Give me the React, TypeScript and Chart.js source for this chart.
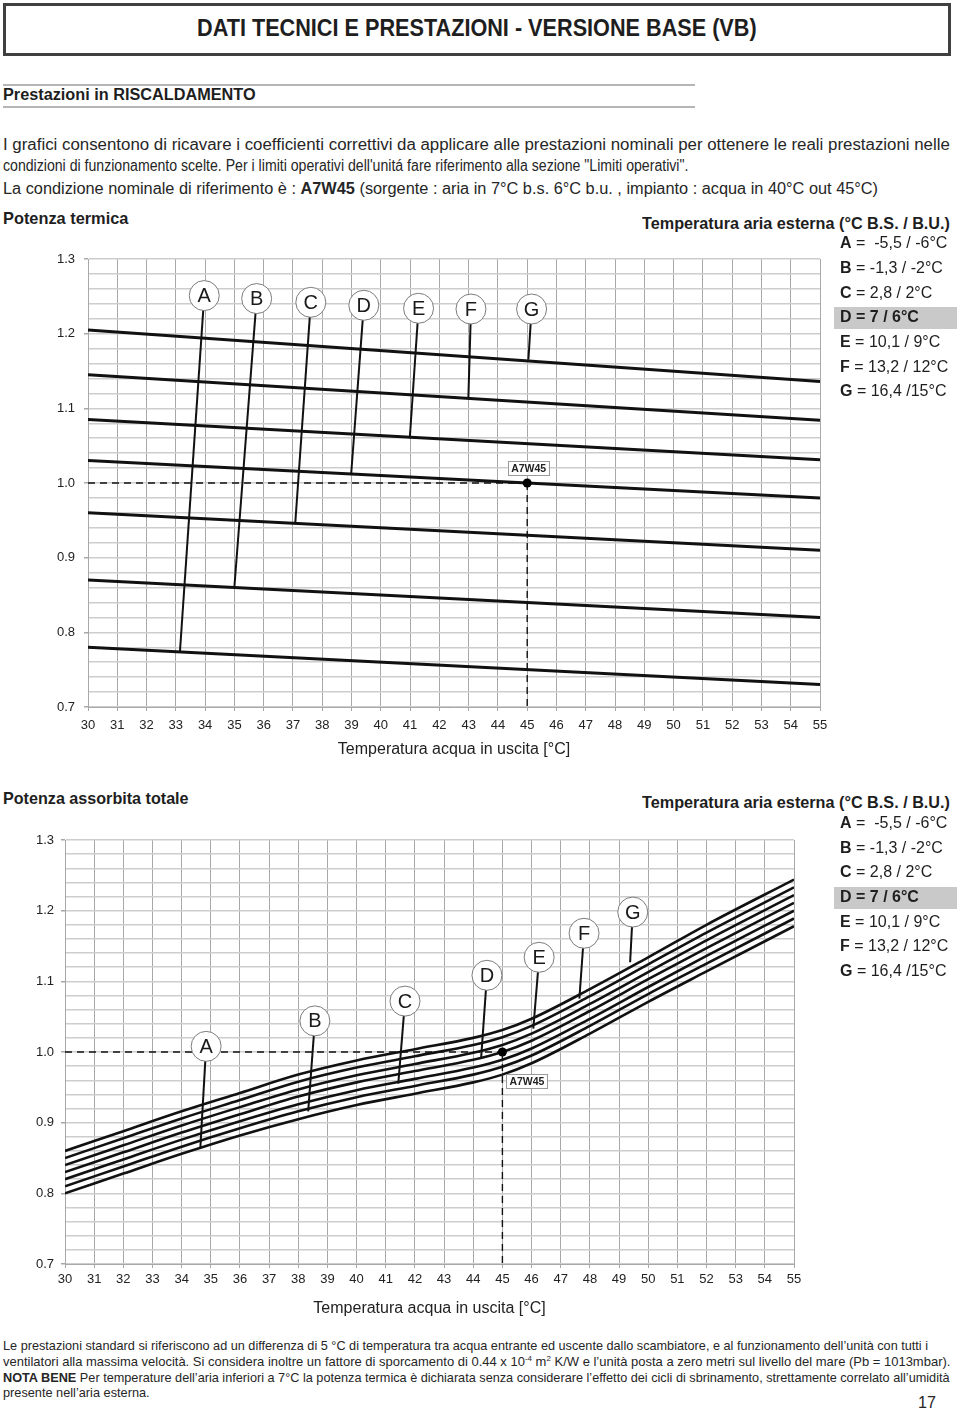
import React, { useEffect, useLayoutEffect, useRef } from 'react';
import { Chart, registerables } from 'chart.js';

Chart.register(...registerables);

const FONT = "'Liberation Sans', Arial, Helvetica, sans-serif";

// ---------- shared axis data ----------
const X_MIN = 30;
const X_MAX = 55;
const Y_MIN = 0.7;
const Y_MAX = 1.3;
const LETTERS = ['A', 'B', 'C', 'D', 'E', 'F', 'G'];
const LEGEND_TITLE = 'Temperatura aria esterna (°C B.S. / B.U.)';
const LEGEND_VALUES = [' =  -5,5 / -6°C', ' = -1,3 / -2°C', ' = 2,8 / 2°C', ' = 7 / 6°C', ' = 10,1 / 9°C', ' = 13,2 / 12°C', ' = 16,4 /15°C'];
const X_TITLE = 'Temperatura acqua in uscita [°C]';
const REF_X = 45;
const REF_Y = 1.0;
const REF_LABEL = 'A7W45';

// ---------- Potenza termica ----------
const PT_X = [30, 55];
const PT_A = [0.78, 0.73];
const PT_B = [0.87, 0.82];
const PT_C = [0.96, 0.91];
const PT_D = [1.03, 0.98];
const PT_E = [1.085, 1.031];
const PT_F = [1.145, 1.084];
const PT_G = [1.205, 1.136];
const PT_CIRCLE_X = [33.97, 35.76, 37.61, 39.42, 41.29, 43.08, 45.15];
const PT_CIRCLE_Y = [1.251, 1.247, 1.242, 1.238, 1.234, 1.233, 1.233];
const PT_END_X = [33.14, 35.0, 37.08, 38.99, 40.99, 42.99, 45.04];
const PT_END_Y = [0.774, 0.861, 0.947, 1.013, 1.06, 1.113, 1.165];

// ---------- Potenza assorbita totale ----------
const PA_X = [30, 32, 34, 36, 38, 40, 42, 44, 45, 46, 48, 50, 52, 55];
const PA_A = [0.8, 0.828, 0.856, 0.882, 0.905, 0.925, 0.941, 0.957, 0.968, 0.984, 1.026, 1.071, 1.114, 1.178];
const PA_B = [0.81, 0.838, 0.866, 0.892, 0.916, 0.936, 0.952, 0.968, 0.979, 0.995, 1.037, 1.082, 1.125, 1.189];
const PA_C = [0.82, 0.848, 0.876, 0.902, 0.926, 0.946, 0.962, 0.978, 0.989, 1.005, 1.047, 1.092, 1.136, 1.2];
const PA_D = [0.83, 0.858, 0.886, 0.912, 0.937, 0.957, 0.973, 0.989, 1.0, 1.016, 1.058, 1.103, 1.147, 1.211];
const PA_E = [0.84, 0.868, 0.896, 0.922, 0.947, 0.967, 0.983, 0.999, 1.01, 1.026, 1.068, 1.113, 1.158, 1.222];
const PA_F = [0.85, 0.878, 0.906, 0.932, 0.958, 0.978, 0.994, 1.01, 1.021, 1.037, 1.079, 1.124, 1.169, 1.233];
const PA_G = [0.86, 0.888, 0.916, 0.942, 0.968, 0.988, 1.004, 1.02, 1.031, 1.047, 1.089, 1.134, 1.18, 1.244];
const PA_CIRCLE_X = [34.84, 38.57, 41.66, 44.47, 46.26, 47.8, 49.47];
const PA_CIRCLE_Y = [1.008, 1.044, 1.072, 1.1085, 1.134, 1.168, 1.198];
const PA_END_X = [34.64, 38.34, 41.43, 44.27, 46.06, 47.64, 49.38];
const PA_END_Y = [0.8634, 0.916, 0.9553, 0.991, 1.033, 1.0755, 1.127];

type Spec = {
  xs: number[];
  curves: number[][];
  smooth: boolean;
  curveWidth: number;
  circX: number[];
  circY: number[];
  endX: number[];
  endY: number[];
  yAxisWidth: number;
  xAxisHeight: number;
  padTop: number;
  padRight: number;
  yTickPad: number;
  xTickPad: number;
  titlePadBottom: number;
  boxDx: number;
  boxDy: number;
};

const annotPlugin = {
  id: 'annot',
  afterDatasetsDraw(chart: any, _args: any, opts: any) {
    const ctx = chart.ctx;
    chart.data.datasets.forEach((ds: any, i: number) => {
      const meta = chart.getDatasetMeta(i);
      if (ds.label === 'circles') {
        ctx.save();
        ctx.font = `20px ${FONT}`;
        ctx.fillStyle = '#1a1a1a';
        ctx.textAlign = 'center';
        ctx.textBaseline = 'middle';
        meta.data.forEach((el: any, j: number) => ctx.fillText(LETTERS[j], el.x, el.y + 1));
        ctx.restore();
      }
      if (ds.label === 'ref') {
        const el = meta.data[0];
        const cx = el.x + opts.boxDx;
        const cy = el.y + opts.boxDy;
        const w = 41;
        const h = 14;
        ctx.save();
        ctx.fillStyle = '#ffffff';
        ctx.fillRect(cx - w / 2, cy - h / 2, w, h);
        ctx.strokeStyle = '#9a9a9a';
        ctx.lineWidth = 1;
        ctx.strokeRect(Math.round(cx - w / 2) + 0.5, Math.round(cy - h / 2) + 0.5, w, h);
        ctx.font = `bold 10.5px ${FONT}`;
        ctx.fillStyle = '#222';
        ctx.textAlign = 'center';
        ctx.textBaseline = 'middle';
        ctx.fillText(REF_LABEL, cx + 0.5, cy + 1);
        ctx.restore();
      }
    });
  },
};

function buildConfig(s: Spec): any {
  const pts = (xs: number[], ys: number[]) => xs.map((x, i) => ({ x, y: ys[i] }));
  const datasets: any[] = [];
  s.curves.forEach((c, i) => {
    datasets.push({
      label: 'curve ' + LETTERS[i],
      data: pts(s.xs, c),
      borderColor: '#111',
      borderWidth: s.curveWidth,
      pointRadius: 0,
      cubicInterpolationMode: s.smooth ? 'monotone' : 'default',
      tension: 0,
      fill: false,
      order: 10,
    });
  });
  LETTERS.forEach((_, i) => {
    datasets.push({
      label: 'leader ' + LETTERS[i],
      data: [
        { x: s.circX[i], y: s.circY[i] },
        { x: s.endX[i], y: s.endY[i] },
      ],
      borderColor: '#111',
      borderWidth: 2,
      pointRadius: 0,
      fill: false,
      order: 5,
    });
  });
  datasets.push({
    label: 'dash h',
    data: [
      { x: X_MIN, y: REF_Y },
      { x: REF_X, y: REF_Y },
    ],
    borderColor: '#111',
    borderWidth: 1.4,
    borderDash: [7, 5],
    pointRadius: 0,
    fill: false,
    order: 6,
  });
  datasets.push({
    label: 'dash v',
    data: [
      { x: REF_X, y: REF_Y },
      { x: REF_X, y: Y_MIN },
    ],
    borderColor: '#111',
    borderWidth: 1.4,
    borderDash: [7, 5],
    pointRadius: 0,
    fill: false,
    order: 6,
  });
  datasets.push({
    label: 'ref',
    data: [{ x: REF_X, y: REF_Y }],
    showLine: false,
    pointRadius: 4.5,
    pointBackgroundColor: '#000',
    pointBorderWidth: 0,
    order: 1,
  });
  datasets.push({
    label: 'circles',
    data: pts(s.circX, s.circY),
    showLine: false,
    pointRadius: 15,
    pointBackgroundColor: '#ffffff',
    pointBorderColor: '#7c7c7c',
    pointBorderWidth: 1,
    order: 0,
  });

  const isMajor = (v: number) => Math.round(v * 100) % 10 === 0;

  return {
    type: 'line',
    data: { datasets },
    plugins: [annotPlugin],
    options: {
      animation: false,
      responsive: false,
      events: [],
      layout: { padding: { top: s.padTop, right: s.padRight, left: 0, bottom: 0 } },
      plugins: {
        legend: { display: false },
        tooltip: { enabled: false },
        annot: { boxDx: s.boxDx, boxDy: s.boxDy },
      },
      scales: {
        x: {
          type: 'linear',
          min: X_MIN,
          max: X_MAX,
          afterFit: (sc: any) => {
            sc.height = s.xAxisHeight;
          },
          ticks: {
            stepSize: 1,
            autoSkip: false,
            maxRotation: 0,
            padding: s.xTickPad,
            color: '#222',
            font: { family: FONT, size: 13 },
          },
          grid: { color: '#a8a8a8', lineWidth: 1, tickLength: 4, tickColor: '#a8a8a8' },
          border: { display: true, color: '#a8a8a8', width: 1 },
          title: {
            display: true,
            text: X_TITLE,
            color: '#222',
            font: { family: FONT, size: 16 },
            padding: { top: 0, bottom: s.titlePadBottom },
          },
        },
        y: {
          type: 'linear',
          min: Y_MIN,
          max: Y_MAX,
          afterFit: (sc: any) => {
            sc.width = s.yAxisWidth;
          },
          ticks: {
            stepSize: 0.02,
            autoSkip: false,
            padding: s.yTickPad,
            color: '#222',
            font: { family: FONT, size: 13 },
            callback: (v: number) => (isMajor(v) ? (Math.round(v * 10) / 10).toFixed(1) : ''),
          },
          grid: {
            color: '#cdcdcd',
            lineWidth: 1.5,
            tickLength: 4,
            tickColor: (c: any) => (c.tick && isMajor(c.tick.value) ? '#a8a8a8' : 'rgba(0,0,0,0)'),
          },
          border: { display: true, color: '#a8a8a8', width: 1 },
        },
      },
    },
  };
}

function ChartBox({ spec, top, height }: { spec: Spec; top: number; height: number }) {
  const ref = useRef<HTMLCanvasElement>(null);
  useEffect(() => {
    if (!ref.current) return;
    const chart = new Chart(ref.current, buildConfig(spec));
    return () => chart.destroy();
  }, [spec]);
  return (
    <canvas
      ref={ref}
      width={960}
      height={height}
      style={{ position: 'absolute', left: 0, top, width: 960, height }}
    />
  );
}

function FitLine({
  x,
  y,
  w,
  size,
  bold,
  color = '#262626',
  children,
}: {
  x: number;
  y: number;
  w?: number;
  size: number;
  bold?: boolean;
  color?: string;
  children: React.ReactNode;
}) {
  const ref = useRef<HTMLDivElement>(null);
  useLayoutEffect(() => {
    const el = ref.current;
    if (!el || !w) return;
    const fit = () => {
      el.style.transform = 'none';
      const nat = el.offsetWidth;
      if (nat > 0) el.style.transform = `scaleX(${w / nat})`;
    };
    fit();
    const fonts: any = (document as any).fonts;
    if (fonts && fonts.ready) fonts.ready.then(fit);
  }, [w]);
  return (
    <div
      ref={ref}
      style={{
        position: 'absolute',
        left: x,
        top: y - size * 0.56,
        width: 'max-content',
        whiteSpace: 'pre',
        fontFamily: FONT,
        fontSize: size,
        lineHeight: `${size}px`,
        fontWeight: bold ? 700 : 400,
        color,
        transformOrigin: '0 50%',
      }}
    >
      {children}
    </div>
  );
}

function Legend({ titleY, rowYs, hlTop }: { titleY: number; rowYs: number[]; hlTop: number }) {
  return (
    <>
      <div style={{ position: 'absolute', left: 834, top: hlTop, width: 123, height: 22, background: '#c9c9c9' }} />
      <FitLine x={642} y={titleY} w={308} size={16} bold color="#1e1e1e">
        {LEGEND_TITLE}
      </FitLine>
      {LETTERS.map((l, i) => (
        <FitLine key={l} x={840} y={rowYs[i]} size={16} bold={l === 'D'} color="#1e1e1e">
          <b>{l}</b>
          {LEGEND_VALUES[i]}
        </FitLine>
      ))}
    </>
  );
}

const SPEC_PT: Spec = {
  xs: PT_X,
  curves: [PT_A, PT_B, PT_C, PT_D, PT_E, PT_F, PT_G],
  smooth: false,
  curveWidth: 3,
  circX: PT_CIRCLE_X,
  circY: PT_CIRCLE_Y,
  endX: PT_END_X,
  endY: PT_END_Y,
  yAxisWidth: 88,
  xAxisHeight: 63,
  padTop: 19,
  padRight: 140,
  yTickPad: 9,
  xTickPad: 7,
  titlePadBottom: 11,
  boxDx: 1,
  boxDy: -15,
};

const SPEC_PA: Spec = {
  xs: PA_X,
  curves: [PA_A, PA_B, PA_C, PA_D, PA_E, PA_F, PA_G],
  smooth: true,
  curveWidth: 2.6,
  circX: PA_CIRCLE_X,
  circY: PA_CIRCLE_Y,
  endX: PA_END_X,
  endY: PA_END_Y,
  yAxisWidth: 65,
  xAxisHeight: 56,
  padTop: 20,
  padRight: 166,
  yTickPad: 7,
  xTickPad: 4,
  titlePadBottom: 2,
  boxDx: 24,
  boxDy: 29,
};

export default function App() {
  return (
    <div
      style={{
        position: 'absolute',
        left: 0,
        top: 0,
        width: 960,
        height: 1412,
        background: '#ffffff',
        overflow: 'hidden',
        fontFamily: FONT,
      }}
    >
      {/* header */}
      <div
        style={{
          position: 'absolute',
          left: 3,
          top: 3,
          width: 948,
          height: 53,
          border: '3px solid #404040',
          boxSizing: 'border-box',
        }}
      />
      <FitLine x={197} y={30} w={560} size={23} bold color="#1e1e1e">
        DATI TECNICI E PRESTAZIONI - VERSIONE BASE (VB)
      </FitLine>

      <div style={{ position: 'absolute', left: 3, top: 84, width: 692, height: 2, background: '#b5b5b5' }} />
      <div style={{ position: 'absolute', left: 3, top: 106, width: 692, height: 2, background: '#b5b5b5' }} />
      <FitLine x={3} y={96} w={253} size={16} bold color="#1e1e1e">
        Prestazioni in RISCALDAMENTO
      </FitLine>

      <FitLine x={3} y={146} w={947} size={16}>
        I grafici consentono di ricavare i coefficienti correttivi da applicare alle prestazioni nominali per ottenere le reali prestazioni nelle
      </FitLine>
      <FitLine x={3} y={167} w={685} size={16}>
        condizioni di funzionamento scelte. Per i limiti operativi dell'unitá fare riferimento alla sezione "Limiti operativi".
      </FitLine>
      <FitLine x={3} y={190} w={875} size={16}>
        La condizione nominale di riferimento è : <b>A7W45</b> (sorgente : aria in 7°C b.s. 6°C b.u. , impianto : acqua in 40°C out 45°C)
      </FitLine>

      {/* chart 1 */}
      <ChartBox spec={SPEC_PT} top={240} height={530} />
      <FitLine x={3} y={220} w={125} size={17} bold color="#1e1e1e">
        Potenza termica
      </FitLine>
      <Legend titleY={225} rowYs={[244, 269, 294, 318.3, 343, 367.7, 392.3]} hlTop={307} />

      {/* chart 2 */}
      <ChartBox spec={SPEC_PA} top={820} height={500} />
      <FitLine x={3} y={800} w={186} size={17} bold color="#1e1e1e">
        Potenza assorbita totale
      </FitLine>
      <Legend titleY={804} rowYs={[824, 849, 873.3, 898.3, 922.7, 946.7, 972.3]} hlTop={887} />

      {/* footer */}
      <FitLine x={3} y={1346} w={925} size={13}>
        Le prestazioni standard si riferiscono ad un differenza di 5 °C di temperatura tra acqua entrante ed uscente dallo scambiatore, e al funzionamento dell’unità con tutti i
      </FitLine>
      <FitLine x={3} y={1362} w={947} size={13}>
        ventilatori alla massima velocità. Si considera inoltre un fattore di sporcamento di 0.44 x 10
        <sup style={{ fontSize: 8, lineHeight: 0 }}>-4</sup> m<sup style={{ fontSize: 8, lineHeight: 0 }}>2</sup> K/W e l’unità posta a zero metri sul livello del mare (Pb = 1013mbar).
      </FitLine>
      <FitLine x={3} y={1378} w={947} size={13}>
        <b>NOTA BENE</b> Per temperature dell’aria inferiori a 7°C la potenza termica è dichiarata senza considerare l’effetto dei cicli di sbrinamento, strettamente correlato all’umidità
      </FitLine>
      <FitLine x={3} y={1393} w={147} size={13}>
        presente nell’aria esterna.
      </FitLine>
      <FitLine x={918} y={1404} w={18} size={17}>
        17
      </FitLine>
    </div>
  );
}
